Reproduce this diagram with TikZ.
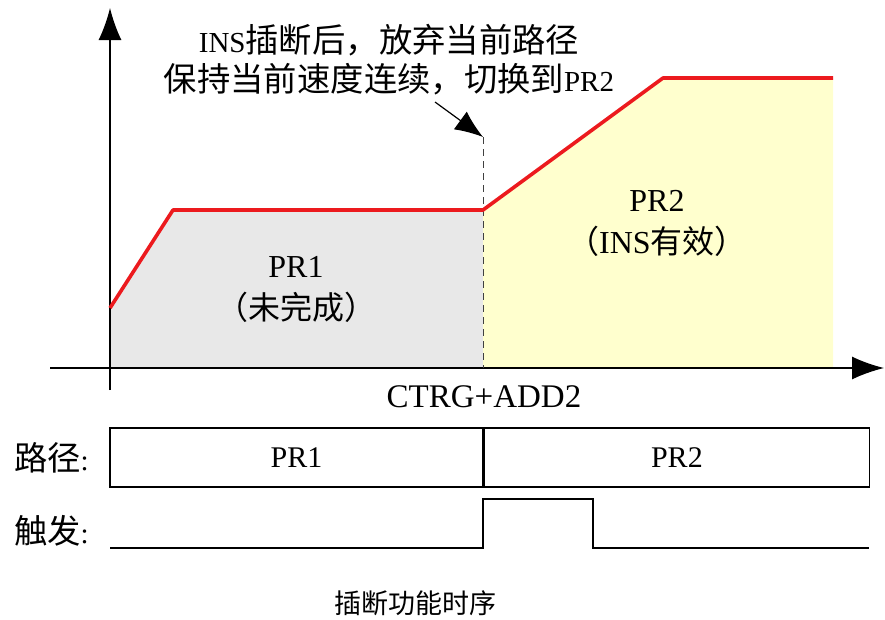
\documentclass[tikz,border=0pt]{standalone}
\usepackage{fontspec}
\setmainfont{Liberation Serif}
\newfontfamily\zhfont[Scale=1.15]{Noto Sans CJK SC}
\newfontfamily\zhnfont{Noto Sans CJK SC}
\newcommand{\zh}[1]{{\zhfont #1}}
\newcommand{\zhn}[1]{{\zhnfont #1}}
\usepackage{xcolor}
\usepackage{tikz}
\usetikzlibrary{arrows.meta, positioning, calc}

\definecolor{pronefill}{RGB}{232,232,232}
\definecolor{prtwofill}{RGB}{255,255,206}
\definecolor{speedred}{RGB}{236,26,30}

\begin{document}
\begin{tikzpicture}[
  x=1pt, y=-1pt,
  axis/.style={-{Latex[length=32pt,width=23pt]}, line width=1.3pt},
  speed/.style={speedred, line width=3.6pt, line join=round},
  seg/.style={draw, line width=1.4pt, minimum height=59pt,
              inner sep=0pt, font=\fontsize{30}{36}\selectfont},
  lbl/.style={font=\fontsize{29}{41}\selectfont, align=center, inner sep=1pt},
  area/.style={font=\fontsize{32}{42}\selectfont, align=center, inner sep=1pt},
  callout/.style={-{Latex[length=28pt,width=22pt]}, line width=1.2pt},
  wave/.style={line width=1.4pt},
]
\useasboundingbox (0,0) rectangle (885,619);

% ---- Areas under the speed curve -------------------------------------------
\fill[pronefill] (110,308) -- (173,210) -- (483,210) -- (483,368)
  -- (110,368) -- cycle;
\fill[prtwofill] (483,210) -- (663,78) -- (833,78) -- (833,368)
  -- (483,368) -- cycle;

% ---- Axes ------------------------------------------------------------------
\coordinate (ybot) at (110,390);
\coordinate (ytop) at (110,8);
\coordinate (xleft) at (50,368);
\coordinate (xright) at (884,368);
\draw[axis] (ybot) -- (ytop);
\draw[axis] (xleft) -- (xright);

% ---- Switch point ----------------------------------------------------------
\coordinate (switch) at (483,137);
\coordinate (swbase) at (483,368);
\draw[dashed, line width=0.9pt, black!75, dash pattern=on 7pt off 5pt]
  (switch) -- (swbase);

% ---- Speed curve -----------------------------------------------------------
\draw[speed] (110,308) -- (173,210) -- (483,210) -- (663,78) -- (833,78);

% ---- Area labels -----------------------------------------------------------
\node[area] (prone)  at (296,289) {PR1\\\zhn{（未完成）}};
\node[area] (prtwo)  at (657,223) {PR2\\\zhn{（}INS\zhn{有效）}};

% ---- Note and callout ------------------------------------------------------
\node[lbl, font=\fontsize{29}{39}\selectfont] (note) at (389,60)
  {INS\zh{插断后，放弃当前路径}\\\zh{保持当前速度连续，切换到}PR2};
\coordinate (tail) at (435,102);
\draw[callout] (tail) -- (switch);

\node[lbl, font=\fontsize{33}{40}\selectfont] (cmd) at (484,397) {CTRG+ADD2};

% ---- Path row --------------------------------------------------------------
\node[seg, minimum width=373pt] (segone) at (296.5,457.5) {PR1};
\node[seg, minimum width=385pt, anchor=west] (segtwo)
  at (segone.east) {PR2};
\node[lbl, anchor=east] (lpath) at (90,458) {\zh{路径}:};

% ---- Trigger row -----------------------------------------------------------
\node[lbl, anchor=east] (ltrig) at (90,531) {\zh{触发}:};
\draw[wave] (110,548) -- (483,548) -- (483,499) -- (593,499)
  -- (593,548) -- (869,548);

% ---- Caption ---------------------------------------------------------------
\node[font=\fontsize{27}{30}\selectfont] (caption) at (415,603)
  {\zhn{插断功能时序}};

\end{tikzpicture}
\end{document}
